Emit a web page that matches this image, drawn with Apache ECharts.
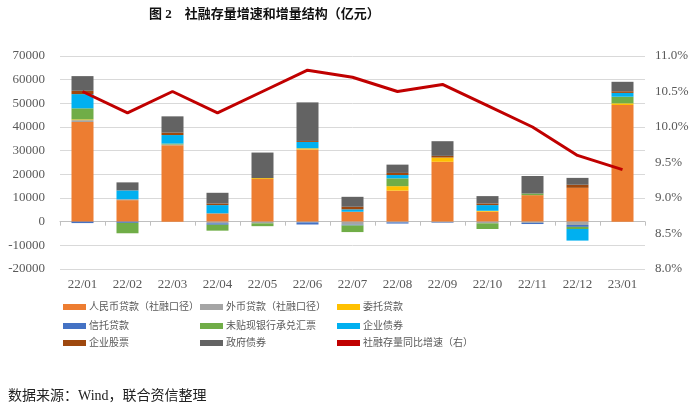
<!DOCTYPE html>
<html><head><meta charset="utf-8">
<script src="https://cdn.jsdelivr.net/npm/echarts@6/dist/echarts.min.js"></script>
<style>html,body{margin:0;padding:0;background:#fff}#c{width:700px;height:408px}</style>
</head><body><div id="c"></div>
<script>
const categories = ['22/01','22/02','22/03','22/04','22/05','22/06','22/07','22/08','22/09','22/10','22/11','22/12','23/01'];
const rmbLoans     = [42100, 9100, 32300, 3500, 18000, 30500, 4200, 13100, 25300, 4200, 11200, 14300, 49300];
const foreignLoans = [800, 400, 300, -700, -700, -300, -1300, -300, -300, -700, -500, -1400, 0];
const entrusted    = [300, 0, 0, 0, 400, 500, 0, 1900, 1800, 400, 0, 0, 700];
const trustLoans   = [-600, -500, 0, -600, 0, -900, -300, -500, -200, 0, -500, -800, 0];
const undiscounted = [4700, -4400, 400, -2500, -1200, 0, -2800, 3300, 0, -2400, 700, -900, 2800];
const corpBonds    = [6000, 3700, 3600, 3500, 0, 2700, 1000, 1400, 0, 2400, 0, -4900, 1600];
const equity       = [1400, 0, 1000, 700, 0, 400, 1100, 900, 700, 700, 0, 1300, 700];
const govBonds     = [6200, 3400, 6900, 4500, 10800, 16300, 4200, 3500, 6200, 3100, 7400, 2900, 4000];
const growth       = [10.5, 10.2, 10.5, 10.2, 10.5, 10.8, 10.7, 10.5, 10.6, 10.3, 10.0, 9.6, 9.4];
const leftTicks = {min: -20000, max: 70000, interval: 10000};
const rightTicks = {min: 8, max: 11, interval: 0.5};

const barNames = ['人民币贷款（社融口径）','外币贷款（社融口径）','委托贷款','信托贷款','未贴现银行承兑汇票','企业债券','企业股票','政府债券'];
const barData = [rmbLoans, foreignLoans, entrusted, trustLoans, undiscounted, corpBonds, equity, govBonds];
const barColors = ['#ED7D31','#A5A5A5','#FFC000','#4472C4','#70AD47','#00B0F0','#9E480E','#636363'];
const lineName = '社融存量同比增速（右）';

const serif = '"Liberation Serif","Times New Roman","Noto Sans CJK SC",serif';
const txtColor = '#595959';

const series = barNames.map((n,i)=>({
  name:n, type:'bar', stack:'s', barWidth:22, data:barData[i],
  itemStyle:{color:barColors[i]}, xAxisIndex:0, yAxisIndex:0
}));
series.push({name:lineName, type:'line', data:growth, yAxisIndex:1, xAxisIndex:0,
  symbol:'none', lineStyle:{color:'#C00000', width:3}, itemStyle:{color:'#C00000'}, z:10});

const allNames = barNames.concat([lineName]);
const colX = [63, 200, 337];
const rowY = [302, 321, 338];
const legends = allNames.map((n,i)=>({
  data:[n], left:colX[i%3], top:rowY[Math.floor(i/3)],
  itemWidth:23, itemHeight:6, icon:'rect', itemGap:4, padding:0,
  textStyle:{fontFamily:serif, fontSize:10, color:txtColor, padding:[0,0,0,-2]},
  selectedMode:false
}));

const chart = echarts.init(document.getElementById('c'));
chart.setOption({
  animation:false,
  title:{text:'图 2　社融存量增速和增量结构（亿元）', left:149, top:8, padding:0,
    textStyle:{fontFamily:serif, fontSize:13, fontWeight:'bold', color:'#111'}},
  graphic:[{type:'text', left:8, top:389, style:{text:'数据来源：Wind，联合资信整理', font:'14px '+serif, fill:'#222'}}],
  legend:legends,
  grid:{left:60, right:55, top:56, bottom:139},
  xAxis:[
    {type:'category', data:categories, position:'bottom',
      axisLine:{show:false, onZero:false}, axisTick:{show:false},
      axisLabel:{fontFamily:serif, fontSize:13, color:txtColor, margin:9}},
    {type:'category', data:categories, position:'bottom',
      axisLine:{show:true, onZero:true, onZeroAxisIndex:0, lineStyle:{color:'#BFBFBF'}},
      axisTick:{show:true, length:4, lineStyle:{color:'#BFBFBF'}},
      axisLabel:{show:false}}
  ],
  yAxis:[
    {type:'value', min:leftTicks.min, max:leftTicks.max, interval:leftTicks.interval,
      axisLine:{show:false}, axisTick:{show:false},
      splitLine:{lineStyle:{color:'#D9D9D9'}},
      axisLabel:{fontFamily:serif, fontSize:13, color:txtColor, margin:15, formatter:v=>String(v)}},
    {type:'value', min:rightTicks.min, max:rightTicks.max, interval:rightTicks.interval,
      axisLine:{show:false}, axisTick:{show:false}, splitLine:{show:false},
      axisLabel:{fontFamily:serif, fontSize:13, color:txtColor, margin:10,
        formatter:v=>v.toFixed(1)+'%'}}
  ],
  series:series
});
</script></body></html>
